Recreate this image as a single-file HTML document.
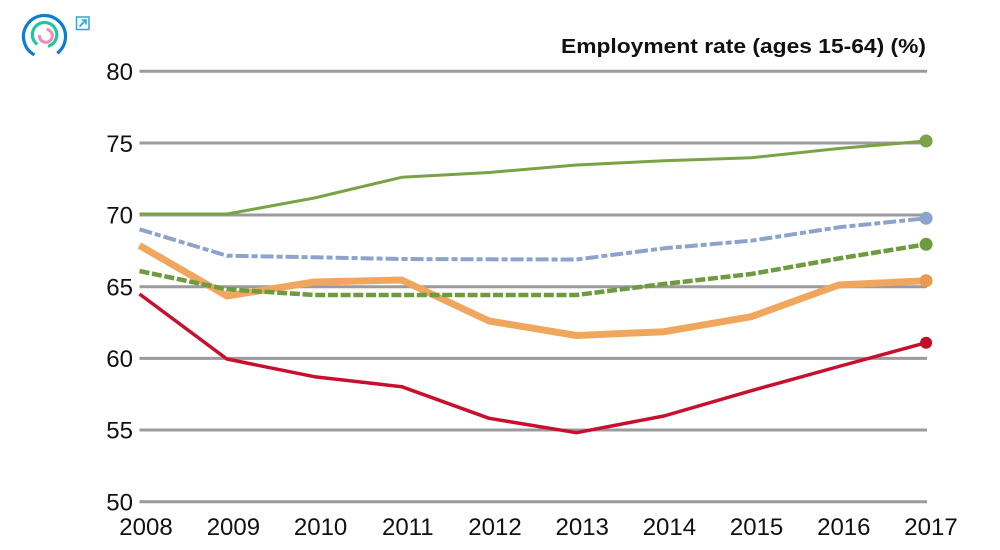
<!DOCTYPE html>
<html>
<head>
<meta charset="utf-8">
<style>
  html, body { margin: 0; padding: 0; background: #ffffff; }
  body { width: 1000px; height: 550px; overflow: hidden; }
  svg { display: block; }
  text { font-family: "Liberation Sans", "DejaVu Sans", sans-serif; fill: #111; }
</style>
</head>
<body>
<svg width="1000" height="550" viewBox="0 0 1000 550" xmlns="http://www.w3.org/2000/svg">
  <rect width="1000" height="550" fill="#ffffff"/>

  <!-- Logo -->
  <g fill="none" stroke-linecap="butt">
    <path d="M 34.4 54.9 A 21 21 0 1 1 57.2 53.2" stroke="#0a7fcf" stroke-width="3.2"/>
    <path d="M 37.2 44.4 A 12.2 12.2 0 1 1 48 46.4" stroke="#1fc7a0" stroke-width="3.2"/>
    <path d="M 46.7 29.4 A 6.5 6.5 0 1 1 39.4 35" stroke="#f08cb8" stroke-width="3"/>
  </g>
  <rect x="76.5" y="17" width="12.5" height="12.5" fill="none" stroke="#2aa6d9" stroke-width="1.5"/>
  <path d="M 79.5 26.5 L 86 20 M 81.5 20 L 86 20 L 86 24.5" fill="none" stroke="#2aa6d9" stroke-width="1.6"/>

  <!-- Title -->
  <text x="926" y="53" text-anchor="end" font-size="20.5" font-weight="bold" textLength="365" lengthAdjust="spacingAndGlyphs">Employment rate (ages 15-64) (%)</text>

  <!-- Grid lines -->
  <g stroke="#9b9a9f" stroke-width="3">
    <line x1="139.5" y1="71.2" x2="927" y2="71.2"/>
    <line x1="139.5" y1="143" x2="927" y2="143"/>
    <line x1="139.5" y1="215" x2="927" y2="215"/>
    <line x1="139.5" y1="286.7" x2="927" y2="286.7"/>
    <line x1="139.5" y1="358.4" x2="927" y2="358.4"/>
    <line x1="139.5" y1="430" x2="927" y2="430"/>
    <line x1="139.5" y1="501.8" x2="927" y2="501.8"/>
  </g>

  <!-- Y labels -->
  <g font-size="24" text-anchor="end">
    <text x="133" y="80">80</text>
    <text x="133" y="152">75</text>
    <text x="133" y="223.5">70</text>
    <text x="133" y="295.5">65</text>
    <text x="133" y="367">60</text>
    <text x="133" y="438.5">55</text>
    <text x="133" y="510.5">50</text>
  </g>

  <!-- X labels -->
  <g font-size="24" text-anchor="middle">
    <text x="146" y="535">2008</text>
    <text x="233.4" y="535">2009</text>
    <text x="320.6" y="535">2010</text>
    <text x="407.8" y="535">2011</text>
    <text x="495" y="535">2012</text>
    <text x="582.2" y="535">2013</text>
    <text x="669.4" y="535">2014</text>
    <text x="756.6" y="535">2015</text>
    <text x="843.8" y="535">2016</text>
    <text x="931" y="535">2017</text>
  </g>

  <!-- Series -->
  <g fill="none" stroke-linejoin="round">
    <polyline stroke="#f0a75d" stroke-width="7"
      points="139.5,245.5 226.9,296 314.3,282 401.7,280 489.1,321 576.5,335.5 663.9,331.7 751.3,316.7 838.7,285 926.1,280.7"/>
    <polyline stroke="#c8102e" stroke-width="3.5"
      points="139.5,294 226.9,359 314.3,376.7 401.7,386.7 489.1,418.3 576.5,432.7 663.9,416 751.3,390.7 838.7,366.5 926.1,342.7"/>
    <polyline stroke="#7aa346" stroke-width="3"
      points="139.5,214 226.9,214 314.3,198 401.7,177.3 489.1,172.5 576.5,165 663.9,160.7 751.3,157.7 838.7,148.5 926.1,141"/>
    <polyline stroke="#8da3cc" stroke-width="4" stroke-dasharray="13 3 6 3"
      points="139.5,229.3 226.9,255.7 314.3,257.3 401.7,259 489.1,259.3 576.5,259.5 663.9,248.3 751.3,240.7 838.7,227.3 926.1,218.3"/>
    <polyline stroke="#6e9b40" stroke-width="4.5" stroke-dasharray="10 2.7"
      points="139.5,271 226.9,289.3 314.3,295 401.7,295 489.1,295 576.5,295 663.9,284 751.3,274 838.7,258.5 926.1,244.3"/>
  </g>

  <!-- End dots -->
  <circle cx="926.1" cy="141" r="6.5" fill="#7aa346"/>
  <circle cx="926.1" cy="218.3" r="6.5" fill="#8da3cc"/>
  <circle cx="926.1" cy="244.3" r="6.5" fill="#6e9b40"/>
  <circle cx="926.1" cy="280.7" r="6.5" fill="#ea9a50"/>
  <circle cx="926.1" cy="342.7" r="6" fill="#c0102c"/>
</svg>
</body>
</html>
